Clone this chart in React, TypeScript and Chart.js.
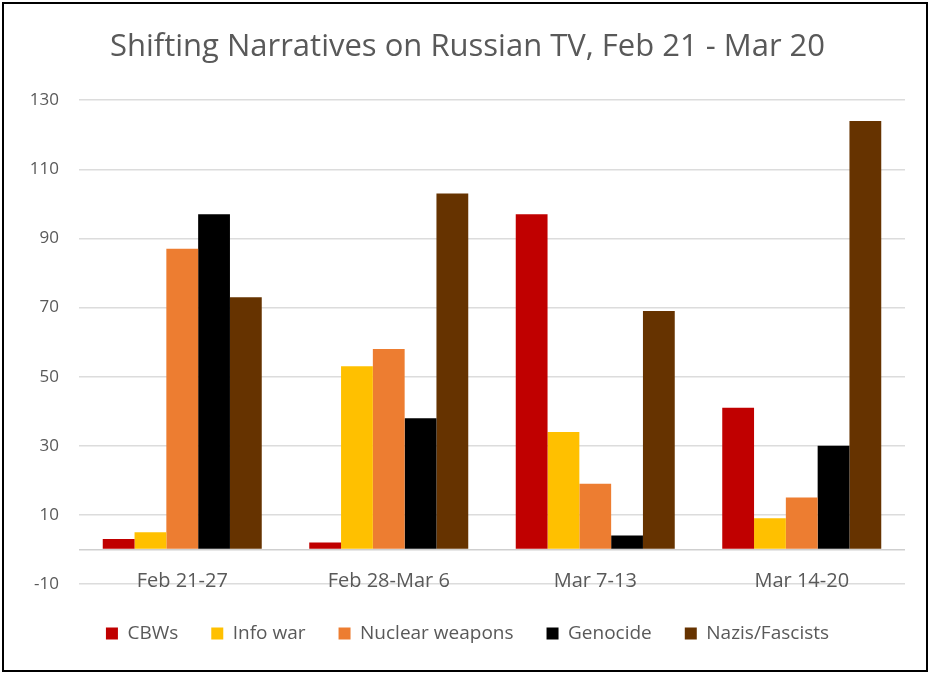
import React, { useEffect, useRef } from "react";
import { Chart, registerables } from "chart.js";

Chart.register(...registerables);

const categories = ["Feb 21-27", "Feb 28-Mar 6", "Mar 7-13", "Mar 14-20"];
const seriesNames = ["CBWs", "Info war", "Nuclear weapons", "Genocide", "Nazis/Fascists"];
const cbws = [3, 2, 97, 41];
const infoWar = [5, 53, 34, 9];
const nuclearWeapons = [87, 58, 19, 15];
const genocide = [97, 38, 4, 30];
const nazisFascists = [73, 103, 69, 124];
const yTickValues = [-10, 10, 30, 50, 70, 90, 110, 130];
const seriesColors = ["#C00000", "#FFC000", "#ED7D31", "#000000", "#663300"];
const titleText = "Shifting Narratives on Russian TV, Feb 21 - Mar 20";

const FONT = "'Open Sans', Lato, sans-serif";
const TEXT = "#595959";

const categoryLabelPlugin = {
  id: "categoryLabels",
  afterDraw(chart: any) {
    const xs = chart.scales.x;
    const area = chart.chartArea;
    const ctx = chart.ctx;
    ctx.save();
    ctx.font = `20px ${FONT}`;
    ctx.fillStyle = TEXT;
    ctx.textAlign = "center";
    ctx.textBaseline = "alphabetic";
    (chart.data.labels as string[]).forEach((lab, i) => {
      ctx.fillText(lab, xs.getPixelForValue(i), area.bottom + 3);
    });
    ctx.restore();
  },
};

export default function App() {
  const ref = useRef<HTMLCanvasElement | null>(null);

  useEffect(() => {
    if (!ref.current) return;
    const values = [cbws, infoWar, nuclearWeapons, genocide, nazisFascists];
    const chart = new Chart(ref.current, {
      type: "bar",
      data: {
        labels: categories,
        datasets: seriesNames.map((name, i) => ({
          label: name,
          data: values[i],
          backgroundColor: seriesColors[i],
          borderWidth: 0,
          categoryPercentage: 0.77,
          barPercentage: 1.0,
        })),
      },
      plugins: [categoryLabelPlugin],
      options: {
        animation: false,
        responsive: false,
        maintainAspectRatio: false,
        devicePixelRatio: 1,
        layout: { padding: { left: 30, right: 25, top: 0, bottom: 20 } },
        plugins: {
          title: {
            display: true,
            text: titleText,
            color: TEXT,
            font: { family: FONT, size: 31, weight: "normal" },
            padding: { top: 29, bottom: 34 },
          },
          legend: {
            position: "bottom",
            labels: {
              color: TEXT,
              font: { family: FONT, size: 19 },
              boxWidth: 12,
              boxHeight: 12,
              padding: 33,
            },
          },
          tooltip: { enabled: false },
        },
        scales: {
          x: {
            grid: { display: false, drawTicks: false },
            border: { display: false },
            ticks: { display: false },
            afterFit: (axis: any) => {
              axis.height = 7;
            },
          },
          y: {
            min: -10,
            max: 130,
            afterBuildTicks: (axis: any) => {
              axis.ticks = [...yTickValues, 0]
                .sort((a, b) => a - b)
                .map((v) => ({ value: v }));
            },
            afterFit: (axis: any) => {
              axis.width = 49;
            },
            ticks: {
              color: TEXT,
              font: { family: FONT, size: 17 },
              padding: 20,
              callback: (v: any) => (Number(v) === 0 ? "" : String(v)),
            },
            grid: {
              color: (ctx: any) => (ctx.tick && ctx.tick.value === 0 ? "#cfcfcf" : "#dcdcdc"),
              lineWidth: 1.5,
              drawTicks: false,
            },
            border: { display: false },
          },
        },
      },
    });
    return () => chart.destroy();
  }, []);

  return (
    <div style={{ position: "absolute", left: 0, top: 0, width: 930, height: 673, background: "#fff" }}>
      <canvas ref={ref} width={930} height={673} style={{ position: "absolute", left: 0, top: 0 }} />
      <div
        style={{
          position: "absolute",
          left: 2,
          top: 2,
          width: 922,
          height: 666,
          border: "2px solid #000",
          pointerEvents: "none",
        }}
      />
    </div>
  );
}
